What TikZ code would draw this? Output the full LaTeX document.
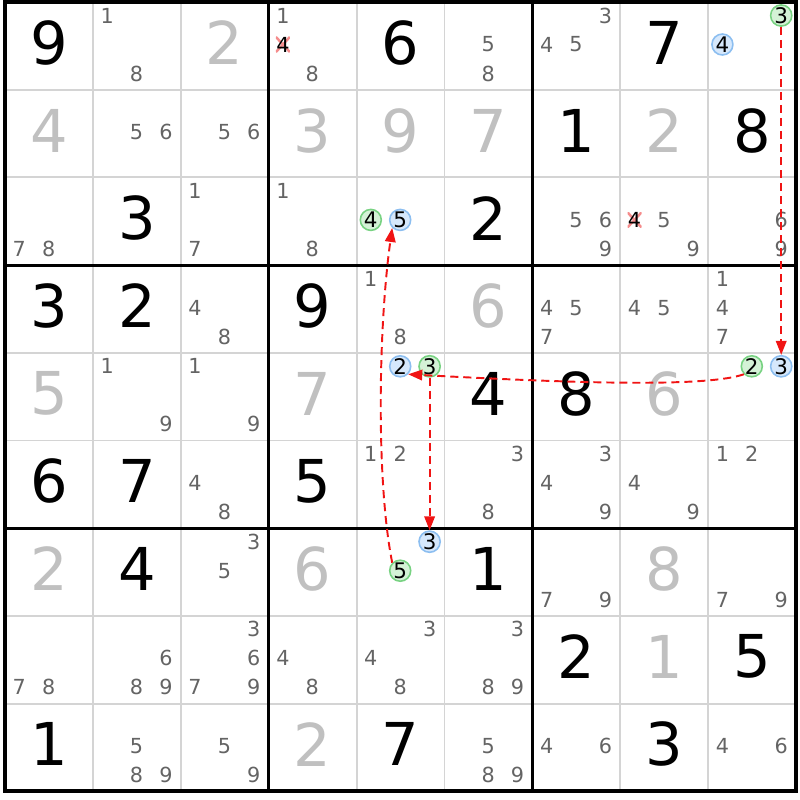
\documentclass[tikz,border=0pt]{standalone}
\usepackage{fontspec}
\setmainfont{DejaVu Sans}
\usetikzlibrary{arrows.meta}
\definecolor{solvedgray}{RGB}{192,192,192}
\definecolor{candgray}{RGB}{100,100,100}
\definecolor{gridgray}{RGB}{212,212,212}
\definecolor{hlbluefill}{RGB}{214,232,252}
\definecolor{hlblueline}{RGB}{140,190,240}
\definecolor{hlgreenfill}{RGB}{212,242,214}
\definecolor{hlgreenline}{RGB}{120,210,130}
\definecolor{linkred}{RGB}{240,20,20}
\definecolor{crossred}{RGB}{245,140,140}

\begin{document}
\begin{tikzpicture}[x=0.01cm, y=-0.01cm]
    % Define styles
    \tikzstyle{given} = [inner sep=0, font=\fontsize{16.8}{18}\selectfont]
    \tikzstyle{solved} = [given, text=solvedgray]
    \tikzstyle{cand} = [inner sep=0, text=candgray, font=\fontsize{5.9}{7}\selectfont]
    \tikzstyle{hlblue} = [circle, draw=hlblueline, fill=hlbluefill, line width=0.45pt, minimum size=0.21cm, inner sep=0, font=\fontsize{6.1}{7}\selectfont]
    \tikzstyle{hlgreen} = [hlblue, draw=hlgreenline, fill=hlgreenfill]
    \tikzstyle{crossed} = [inner sep=0, minimum size=0.14cm, fill=white, font=\fontsize{5.9}{7}\selectfont,
        path picture={\draw[crossred, line width=0.7pt] (path picture bounding box.north west) -- (path picture bounding box.south east)
            (path picture bounding box.north east) -- (path picture bounding box.south west);}]
    \tikzstyle{link} = [linkred, line width=0.55pt, dash pattern=on 2.3pt off 1.4pt, -{Triangle[length=4pt, width=3pt]}]
    \tikzstyle{thinline} = [gridgray, line width=0.55pt]
    \tikzstyle{thickline} = [black, line width=0.9pt]

    \useasboundingbox (0,0) rectangle (800,800);

    % Grid
    \foreach \i in {1,2,4,5,7,8} {
        \draw[thinline] (5+\i*87.9,2) -- (5+\i*87.9,791.3);
        \draw[thinline] (5,2+\i*87.7) -- (796.1,2+\i*87.7);
    }
    \foreach \i in {3,6} {
        \draw[thickline] (5+\i*87.9,2) -- (5+\i*87.9,791.3);
        \draw[thickline] (5,2+\i*87.7) -- (796.1,2+\i*87.7);
    }
    \draw[thickline, line width=1.1pt] (5,2) rectangle (796.1,791.3);

    % Given digits
    \foreach \r/\c/\d in {1/1/9, 1/5/6, 1/8/7, 2/7/1, 2/9/8, 3/2/3, 3/6/2, 4/1/3, 4/2/2, 4/4/9, 5/6/4,
        5/7/8, 6/1/6, 6/2/7, 6/4/5, 7/2/4, 7/6/1, 8/7/2, 8/9/5, 9/1/1, 9/5/7, 9/8/3}
        \node[given] (g\r\c) at (5+\c*87.9-43.95, 2+\r*87.7-46.85) {\d};

    % Solved digits
    \foreach \r/\c/\d in {1/3/2, 2/1/4, 2/4/3, 2/5/9, 2/6/7, 2/8/2, 4/6/6, 5/1/5, 5/4/7, 5/8/6,
        7/1/2, 7/4/6, 7/8/8, 8/8/1, 9/4/2}
        \node[solved] (s\r\c) at (5+\c*87.9-43.95, 2+\r*87.7-46.85) {\d};

    % Candidates
    \foreach \r/\c/\dlist in {1/2/{1,8}, 1/4/{1,8}, 1/6/{5,8}, 1/7/{3,4,5}, 2/2/{5,6}, 2/3/{5,6},
        3/1/{7,8}, 3/3/{1,7}, 3/4/{1,8}, 3/7/{5,6,9}, 3/8/{5,9}, 3/9/{6,9},
        4/3/{4,8}, 4/5/{1,8}, 4/7/{4,5,7}, 4/8/{4,5}, 4/9/{1,4,7}, 5/2/{1,9}, 5/3/{1,9},
        6/3/{4,8}, 6/5/{1,2}, 6/6/{3,8}, 6/7/{3,4,9}, 6/8/{4,9}, 6/9/{1,2},
        7/3/{3,5}, 7/7/{7,9}, 7/9/{7,9}, 8/1/{7,8}, 8/2/{6,8,9}, 8/3/{3,6,7,9}, 8/4/{4,8},
        8/5/{3,4,8}, 8/6/{3,8,9}, 9/2/{5,8,9}, 9/3/{5,9}, 9/6/{5,8,9}, 9/7/{4,6}, 9/9/{4,6}} {
        \foreach \d in \dlist {
            \pgfmathsetmacro\cx{5+(\c-1)*87.9+14.2+mod(\d-1,3)*29.4}
            \pgfmathsetmacro\cy{2+(\r-1)*87.7+13.5+floor((\d-1)/3)*29}
            \node[cand] (k\r\c\d) at (\cx,\cy) {\d};
        }
    }

    % Eliminated candidates
    \foreach \r/\c in {1/4, 3/8} {
        \pgfmathsetmacro\cx{5+(\c-1)*87.9+14.2}
        \pgfmathsetmacro\cy{2+(\r-1)*87.7+13.5+29}
        \node[crossed] (x\r\c) at (\cx,\cy) {4};
    }

    % Chain candidates
    \foreach \r/\c/\d/\s in {1/9/3/green, 1/9/4/blue, 3/5/4/green, 3/5/5/blue, 5/5/2/blue, 5/5/3/green,
        5/9/2/green, 5/9/3/blue, 7/5/3/blue, 7/5/5/green} {
        \pgfmathsetmacro\cx{5+(\c-1)*87.9+14.2+mod(\d-1,3)*29.4}
        \pgfmathsetmacro\cy{2+(\r-1)*87.7+13.5+floor((\d-1)/3)*29}
        \node[hl\s] (h\r\c\d) at (\cx,\cy) {\d};
    }

    % Links
    \draw[link] (h193) -- (h593);
    \draw[link] (h592.south west) .. controls +(-40,14) and +(150,8) .. (h552.south east);
    \draw[link] (h553) -- (h753);
    \draw[link] (h755.north west) .. controls +(-16,-80) and +(-14,100) .. (h355.south west);
\end{tikzpicture}
\end{document}
